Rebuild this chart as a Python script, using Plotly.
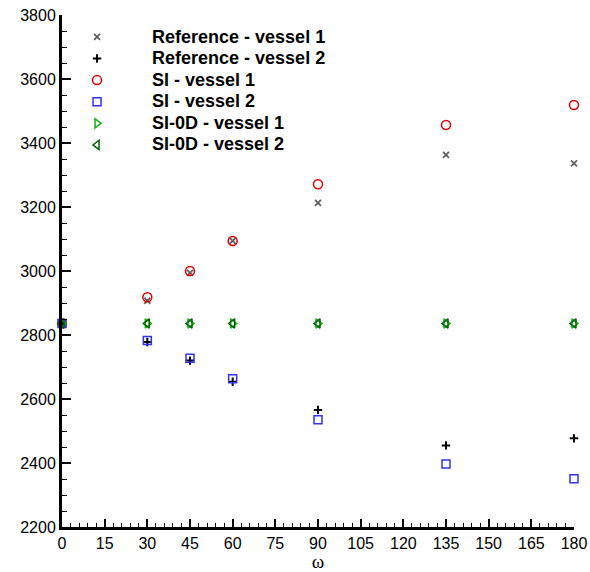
import plotly.graph_objects as go

# Pressure-like quantity versus angle omega for two vessels
omega = [0, 30, 45, 60, 90, 135, 180]
ref_vessel1 = [2836, 2907, 2994, 3094, 3213, 3363, 3336]
ref_vessel2 = [2836, 2778, 2720, 2654, 2566, 2455, 2477]
si_vessel1 = [2836, 2918, 3000, 3094, 3271, 3456, 3519]
si_vessel2 = [2836, 2783, 2727, 2663, 2535, 2397, 2351]
si0d_vessel1 = [2836, 2836, 2836, 2836, 2836, 2836, 2836]
si0d_vessel2 = [2836, 2836, 2836, 2836, 2836, 2836, 2836]

x_ticks = list(range(0, 181, 15))
y_ticks = list(range(2200, 3801, 200))

series = [
    ("Reference - vessel 1", ref_vessel1, "x-thin-open", "#606060", 6, 1.8),
    ("Reference - vessel 2", ref_vessel2, "cross-thin-open", "#000000", 6, 2),
    ("SI - vessel 1", si_vessel1, "circle-open", "#e00000", 9, 1.5),
    ("SI - vessel 2", si_vessel2, "square-open", "#3030ff", 8, 1.5),
    ("SI-0D - vessel 1", si0d_vessel1, "triangle-right-open", "#10b010", 8, 1.5),
    ("SI-0D - vessel 2", si0d_vessel2, "triangle-left-open", "#006000", 8, 1.5),
]

fig = go.Figure()
for name, vals, sym, col, size, lw in series:
    fig.add_trace(go.Scatter(
        x=omega, y=vals, mode="markers",
        name="<span style='font-size:18px'>" + name + "</span>",
        marker=dict(symbol=sym, size=size, color=col, line=dict(color=col, width=lw)),
        cliponaxis=False,
    ))

axis_font = dict(family="Liberation Sans, Arial, sans-serif", size=16, color="#000")

fig.update_layout(
    width=590, height=572,
    margin=dict(l=62, r=16, t=15, b=45),
    plot_bgcolor="white", paper_bgcolor="white",
    showlegend=True,
    legend=dict(
        x=-0.039, y=0.988, xanchor="left", yanchor="top",
        bgcolor="rgba(0,0,0,0)", borderwidth=0,
        itemwidth=100, tracegroupgap=0,
        font=dict(family="Liberation Sans, Arial, sans-serif", size=14.3, color="#000", weight="bold"),
    ),
    xaxis=dict(
        range=[0, 180], tickvals=x_ticks, ticktext=[str(v) for v in x_ticks],
        ticks="inside", ticklen=8, tickwidth=2, tickcolor="#000",
        minor=dict(dtick=3, ticks="inside", ticklen=4, tickwidth=1, tickcolor="#000", showgrid=False),
        showline=True, linecolor="#000", linewidth=3, mirror=False,
        showgrid=False, zeroline=False, tickfont=axis_font, automargin=False,
        title=dict(text="ω", font=dict(family="Liberation Serif, Times New Roman, serif", size=19, color="#000"), standoff=2),
    ),
    yaxis=dict(
        range=[2200, 3800], tickvals=y_ticks, ticktext=[str(v) for v in y_ticks],
        ticks="inside", ticklen=9, tickwidth=2, tickcolor="#000",
        minor=dict(dtick=50, ticks="inside", ticklen=5, tickwidth=1, tickcolor="#000", showgrid=False),
        showline=True, linecolor="#000", linewidth=3, mirror=False,
        showgrid=False, zeroline=False, tickfont=axis_font, automargin=False,
    ),
)

fig.write_html("out.html")
